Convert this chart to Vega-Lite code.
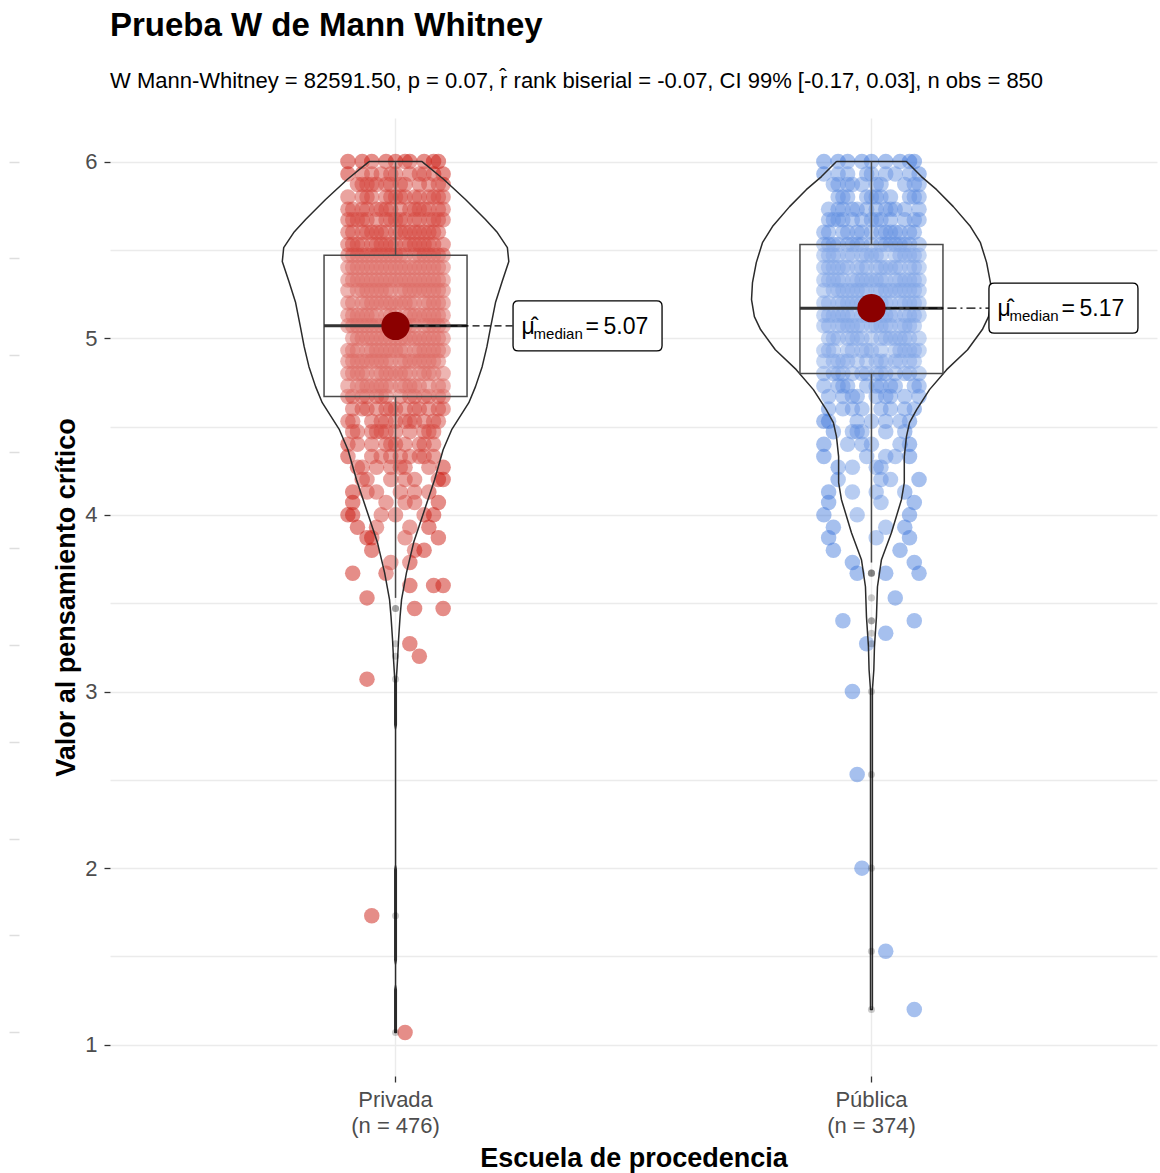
{
  "$schema": "https://vega.github.io/schema/vega-lite/v6.json",
  "width": 1047,
  "height": 958,
  "autosize": {"type": "none"},
  "padding": {"left": 110, "top": 118, "right": 3, "bottom": 97},
  "background": "white",
  "title": {
    "text": "Prueba W de Mann Whitney",
    "subtitle": "W Mann-Whitney = 82591.50, p = 0.07, r̂ rank biserial = -0.07, CI 99% [-0.17, 0.03], n obs = 850",
    "anchor": "start",
    "frame": "group",
    "font": "Liberation Sans",
    "fontSize": 33,
    "fontWeight": "bold",
    "color": "#000000",
    "subtitleFont": "Liberation Sans",
    "subtitleFontSize": 22,
    "subtitleColor": "#000000",
    "subtitlePadding": 28,
    "offset": 26
  },
  "datasets": {
    "privada": [
      {"v":6,"j":3},{"v":6,"j":-7},{"v":6,"j":9},{"v":6,"j":-2},{"v":6,"j":6},{"v":6,"j":-10},{"v":6,"j":0},{"v":6,"j":8},{"v":6,"j":-5},{"v":6,"j":2},
      {"v":5.93,"j":0},{"v":5.93,"j":10},{"v":5.93,"j":-7},{"v":5.93,"j":5},{"v":5.93,"j":-1},{"v":5.93,"j":8},{"v":5.93,"j":-10},{"v":5.93,"j":3},{"v":5.93,"j":-5},{"v":5.93,"j":6},{"v":5.93,"j":-3},
      {"v":5.87,"j":-5},{"v":5.87,"j":9},{"v":5.87,"j":-2},{"v":5.87,"j":2},{"v":5.87,"j":-7},{"v":5.87,"j":1},{"v":5.87,"j":-4},{"v":5.87,"j":7},{"v":5.87,"j":-8},{"v":5.87,"j":10},{"v":5.87,"j":-1},{"v":5.87,"j":5},{"v":5.87,"j":-6},
      {"v":5.8,"j":0},{"v":5.8,"j":8},{"v":5.8,"j":-5},{"v":5.8,"j":2},{"v":5.8,"j":10},{"v":5.8,"j":-7},{"v":5.8,"j":4},{"v":5.8,"j":-1},{"v":5.8,"j":9},{"v":5.8,"j":-6},{"v":5.8,"j":1},{"v":5.8,"j":-10},{"v":5.8,"j":5},{"v":5.8,"j":-2},{"v":5.8,"j":7},
      {"v":5.73,"j":5},{"v":5.73,"j":-1},{"v":5.73,"j":10},{"v":5.73,"j":-4},{"v":5.73,"j":7},{"v":5.73,"j":-9},{"v":5.73,"j":1},{"v":5.73,"j":-6},{"v":5.73,"j":4},{"v":5.73,"j":-3},{"v":5.73,"j":3},{"v":5.73,"j":-7},{"v":5.73,"j":9},{"v":5.73,"j":-2},{"v":5.73,"j":6},{"v":5.73,"j":-10},
      {"v":5.67,"j":1},{"v":5.67,"j":-8},{"v":5.67,"j":-6},{"v":5.67,"j":2},{"v":5.67,"j":9},{"v":5.67,"j":-9},{"v":5.67,"j":4},{"v":5.67,"j":-2},{"v":5.67,"j":7},{"v":5.67,"j":-4},{"v":5.67,"j":0},{"v":5.67,"j":10},{"v":5.67,"j":-7},{"v":5.67,"j":5},{"v":5.67,"j":-1},{"v":5.67,"j":8},{"v":5.67,"j":-10},
      {"v":5.6,"j":5},{"v":5.6,"j":-6},{"v":5.6,"j":3},{"v":5.6,"j":-10},{"v":5.6,"j":8},{"v":5.6,"j":-3},{"v":5.6,"j":0},{"v":5.6,"j":6},{"v":5.6,"j":-9},{"v":5.6,"j":4},{"v":5.6,"j":-5},{"v":5.6,"j":9},{"v":5.6,"j":-2},{"v":5.6,"j":2},{"v":5.6,"j":-7},{"v":5.6,"j":1},{"v":5.6,"j":-4},{"v":5.6,"j":7},
      {"v":5.53,"j":-10},{"v":5.53,"j":5},{"v":5.53,"j":-2},{"v":5.53,"j":7},{"v":5.53,"j":-8},{"v":5.53,"j":3},{"v":5.53,"j":-4},{"v":5.53,"j":-3},{"v":5.53,"j":6},{"v":5.53,"j":-9},{"v":5.53,"j":0},{"v":5.53,"j":8},{"v":5.53,"j":-5},{"v":5.53,"j":2},{"v":5.53,"j":10},{"v":5.53,"j":-7},{"v":5.53,"j":4},{"v":5.53,"j":-1},
      {"v":5.47,"j":-7},{"v":5.47,"j":9},{"v":5.47,"j":-2},{"v":5.47,"j":6},{"v":5.47,"j":-10},{"v":5.47,"j":0},{"v":5.47,"j":8},{"v":5.47,"j":-5},{"v":5.47,"j":2},{"v":5.47,"j":-8},{"v":5.47,"j":5},{"v":5.47,"j":-1},{"v":5.47,"j":10},{"v":5.47,"j":-4},{"v":5.47,"j":7},{"v":5.47,"j":-9},{"v":5.47,"j":1},{"v":5.47,"j":-6},{"v":5.47,"j":4},{"v":5.47,"j":-3},
      {"v":5.4,"j":-6},{"v":5.4,"j":2},{"v":5.4,"j":9},{"v":5.4,"j":-9},{"v":5.4,"j":4},{"v":5.4,"j":-2},{"v":5.4,"j":7},{"v":5.4,"j":-4},{"v":5.4,"j":0},{"v":5.4,"j":10},{"v":5.4,"j":-7},{"v":5.4,"j":5},{"v":5.4,"j":-1},{"v":5.4,"j":8},{"v":5.4,"j":-10},{"v":5.4,"j":3},{"v":5.4,"j":-5},{"v":5.4,"j":6},{"v":5.4,"j":-3},{"v":5.4,"j":1},{"v":5.4,"j":-8},
      {"v":5.33,"j":1},{"v":5.33,"j":-4},{"v":5.33,"j":7},{"v":5.33,"j":-8},{"v":5.33,"j":10},{"v":5.33,"j":-1},{"v":5.33,"j":5},{"v":5.33,"j":-6},{"v":5.33,"j":3},{"v":5.33,"j":-10},{"v":5.33,"j":8},{"v":5.33,"j":-3},{"v":5.33,"j":0},{"v":5.33,"j":6},{"v":5.33,"j":-9},{"v":5.33,"j":4},{"v":5.33,"j":-5},{"v":5.33,"j":9},{"v":5.33,"j":-2},{"v":5.33,"j":2},{"v":5.33,"j":-7},
      {"v":5.27,"j":8},{"v":5.27,"j":-5},{"v":5.27,"j":2},{"v":5.27,"j":10},{"v":5.27,"j":-7},{"v":5.27,"j":4},{"v":5.27,"j":-1},{"v":5.27,"j":9},{"v":5.27,"j":-6},{"v":5.27,"j":1},{"v":5.27,"j":-10},{"v":5.27,"j":5},{"v":5.27,"j":-2},{"v":5.27,"j":7},{"v":5.27,"j":-8},{"v":5.27,"j":3},{"v":5.27,"j":-4},{"v":5.27,"j":-3},{"v":5.27,"j":6},
      {"v":5.2,"j":-1},{"v":5.2,"j":10},{"v":5.2,"j":-4},{"v":5.2,"j":7},{"v":5.2,"j":-9},{"v":5.2,"j":1},{"v":5.2,"j":-6},{"v":5.2,"j":4},{"v":5.2,"j":-3},{"v":5.2,"j":3},{"v":5.2,"j":-7},{"v":5.2,"j":9},{"v":5.2,"j":-2},{"v":5.2,"j":6},{"v":5.2,"j":-10},{"v":5.2,"j":0},{"v":5.2,"j":8},{"v":5.2,"j":-5},{"v":5.2,"j":2},
      {"v":5.13,"j":-8},{"v":5.13,"j":-6},{"v":5.13,"j":2},{"v":5.13,"j":9},{"v":5.13,"j":-9},{"v":5.13,"j":4},{"v":5.13,"j":-2},{"v":5.13,"j":7},{"v":5.13,"j":-4},{"v":5.13,"j":0},{"v":5.13,"j":10},{"v":5.13,"j":-7},{"v":5.13,"j":5},{"v":5.13,"j":-1},{"v":5.13,"j":8},{"v":5.13,"j":-10},{"v":5.13,"j":3},{"v":5.13,"j":-5},{"v":5.13,"j":6},
      {"v":5.07,"j":-6},{"v":5.07,"j":3},{"v":5.07,"j":-10},{"v":5.07,"j":8},{"v":5.07,"j":-3},{"v":5.07,"j":0},{"v":5.07,"j":6},{"v":5.07,"j":-9},{"v":5.07,"j":4},{"v":5.07,"j":-5},{"v":5.07,"j":9},{"v":5.07,"j":-2},{"v":5.07,"j":2},{"v":5.07,"j":-7},{"v":5.07,"j":1},{"v":5.07,"j":-4},{"v":5.07,"j":7},{"v":5.07,"j":-8},{"v":5.07,"j":10},
      {"v":5,"j":5},{"v":5,"j":-2},{"v":5,"j":7},{"v":5,"j":-8},{"v":5,"j":3},{"v":5,"j":-4},{"v":5,"j":-3},{"v":5,"j":6},{"v":5,"j":-9},{"v":5,"j":0},{"v":5,"j":8},{"v":5,"j":-5},{"v":5,"j":2},{"v":5,"j":10},{"v":5,"j":-7},{"v":5,"j":4},{"v":5,"j":-1},{"v":5,"j":9},{"v":5,"j":-6},{"v":5,"j":1},
      {"v":4.93,"j":9},{"v":4.93,"j":-2},{"v":4.93,"j":6},{"v":4.93,"j":-10},{"v":4.93,"j":0},{"v":4.93,"j":8},{"v":4.93,"j":-5},{"v":4.93,"j":2},{"v":4.93,"j":-8},{"v":4.93,"j":5},{"v":4.93,"j":-1},{"v":4.93,"j":10},{"v":4.93,"j":-4},{"v":4.93,"j":7},{"v":4.93,"j":-9},{"v":4.93,"j":1},{"v":4.93,"j":-6},{"v":4.93,"j":4},{"v":4.93,"j":-3},
      {"v":4.87,"j":-7},{"v":4.87,"j":5},{"v":4.87,"j":-1},{"v":4.87,"j":8},{"v":4.87,"j":-10},{"v":4.87,"j":3},{"v":4.87,"j":-5},{"v":4.87,"j":6},{"v":4.87,"j":-3},{"v":4.87,"j":1},{"v":4.87,"j":-8},{"v":4.87,"j":-6},{"v":4.87,"j":2},{"v":4.87,"j":9},{"v":4.87,"j":-9},{"v":4.87,"j":4},{"v":4.87,"j":-2},{"v":4.87,"j":7},{"v":4.87,"j":-4},
      {"v":4.8,"j":-2},{"v":4.8,"j":2},{"v":4.8,"j":-7},{"v":4.8,"j":1},{"v":4.8,"j":-4},{"v":4.8,"j":7},{"v":4.8,"j":-8},{"v":4.8,"j":10},{"v":4.8,"j":-1},{"v":4.8,"j":5},{"v":4.8,"j":-6},{"v":4.8,"j":3},{"v":4.8,"j":-10},{"v":4.8,"j":8},{"v":4.8,"j":-3},{"v":4.8,"j":0},{"v":4.8,"j":6},{"v":4.8,"j":-9},
      {"v":4.73,"j":-5},{"v":4.73,"j":2},{"v":4.73,"j":10},{"v":4.73,"j":-7},{"v":4.73,"j":4},{"v":4.73,"j":-1},{"v":4.73,"j":9},{"v":4.73,"j":-6},{"v":4.73,"j":1},{"v":4.73,"j":-10},{"v":4.73,"j":5},{"v":4.73,"j":-2},{"v":4.73,"j":7},{"v":4.73,"j":-8},{"v":4.73,"j":3},{"v":4.73,"j":-4},{"v":4.73,"j":-3},
      {"v":4.67,"j":10},{"v":4.67,"j":-4},{"v":4.67,"j":7},{"v":4.67,"j":-9},{"v":4.67,"j":1},{"v":4.67,"j":-6},{"v":4.67,"j":4},{"v":4.67,"j":-3},{"v":4.67,"j":3},{"v":4.67,"j":-7},{"v":4.67,"j":9},{"v":4.67,"j":-2},{"v":4.67,"j":6},{"v":4.67,"j":-10},
      {"v":4.6,"j":-6},{"v":4.6,"j":2},{"v":4.6,"j":9},{"v":4.6,"j":-9},{"v":4.6,"j":4},{"v":4.6,"j":-2},{"v":4.6,"j":7},{"v":4.6,"j":-4},{"v":4.6,"j":0},{"v":4.6,"j":10},{"v":4.6,"j":-7},{"v":4.6,"j":5},{"v":4.6,"j":-1},
      {"v":4.53,"j":3},{"v":4.53,"j":-10},{"v":4.53,"j":8},{"v":4.53,"j":-3},{"v":4.53,"j":0},{"v":4.53,"j":6},{"v":4.53,"j":-9},{"v":4.53,"j":4},{"v":4.53,"j":-5},{"v":4.53,"j":9},{"v":4.53,"j":-2},{"v":4.53,"j":2},
      {"v":4.47,"j":-2},{"v":4.47,"j":7},{"v":4.47,"j":-8},{"v":4.47,"j":3},{"v":4.47,"j":-4},{"v":4.47,"j":-3},{"v":4.47,"j":6},{"v":4.47,"j":-9},{"v":4.47,"j":0},{"v":4.47,"j":8},{"v":4.47,"j":-5},
      {"v":4.4,"j":-2},{"v":4.4,"j":6},{"v":4.4,"j":-10},{"v":4.4,"j":0},{"v":4.4,"j":8},{"v":4.4,"j":-5},{"v":4.4,"j":2},{"v":4.4,"j":-8},{"v":4.4,"j":5},{"v":4.4,"j":-1},
      {"v":4.33,"j":5},{"v":4.33,"j":-1},{"v":4.33,"j":8},{"v":4.33,"j":-10},{"v":4.33,"j":3},{"v":4.33,"j":-5},{"v":4.33,"j":6},{"v":4.33,"j":-3},{"v":4.33,"j":1},
      {"v":4.27,"j":2},{"v":4.27,"j":-7},{"v":4.27,"j":1},{"v":4.27,"j":-4},{"v":4.27,"j":7},{"v":4.27,"j":-8},{"v":4.27,"j":10},{"v":4.27,"j":-1},
      {"v":4.2,"j":2},{"v":4.2,"j":10},{"v":4.2,"j":-7},{"v":4.2,"j":4},{"v":4.2,"j":-1},{"v":4.2,"j":9},{"v":4.2,"j":-6},
      {"v":4.13,"j":-4},{"v":4.13,"j":7},{"v":4.13,"j":-9},{"v":4.13,"j":1},{"v":4.13,"j":-6},{"v":4.13,"j":4},
      {"v":4.07,"j":2},{"v":4.07,"j":9},{"v":4.07,"j":-9},{"v":4.07,"j":4},{"v":4.07,"j":-2},
      {"v":4,"j":-10},{"v":4,"j":8},{"v":4,"j":-3},{"v":4,"j":0},{"v":4,"j":6},{"v":4,"j":-9},
      {"v":3.93,"j":7},{"v":3.93,"j":-8},{"v":3.93,"j":3},{"v":3.93,"j":-4},
      {"v":3.87,"j":-5},{"v":3.87,"j":-6},{"v":3.87,"j":9},{"v":3.87,"j":2},
      {"v":3.8,"j":-5},{"v":3.8,"j":4},{"v":3.8,"j":6},
      {"v":3.73,"j":-1},{"v":3.73,"j":3},
      {"v":3.67,"j":-9},{"v":3.67,"j":-2},
      {"v":3.6,"j":3},{"v":3.6,"j":8},{"v":3.6,"j":10},
      {"v":3.53,"j":-6},
      {"v":3.47,"j":4},{"v":3.47,"j":10},
      {"v":3.27,"j":3},
      {"v":3.2,"j":5},
      {"v":3.07,"j":-6},
      {"v":1.73,"j":-5},
      {"v":1.07,"j":2}
    ],
    "publica": [
      {"v":6,"j":3},{"v":6,"j":-7},{"v":6,"j":9},{"v":6,"j":-2},{"v":6,"j":6},{"v":6,"j":-10},{"v":6,"j":0},{"v":6,"j":8},{"v":6,"j":-5},
      {"v":5.93,"j":0},{"v":5.93,"j":10},{"v":5.93,"j":-7},{"v":5.93,"j":5},{"v":5.93,"j":-1},{"v":5.93,"j":8},{"v":5.93,"j":-10},{"v":5.93,"j":3},{"v":5.93,"j":-5},
      {"v":5.87,"j":-5},{"v":5.87,"j":9},{"v":5.87,"j":-2},{"v":5.87,"j":2},{"v":5.87,"j":-7},{"v":5.87,"j":1},{"v":5.87,"j":-4},{"v":5.87,"j":7},{"v":5.87,"j":-8},{"v":5.87,"j":10},
      {"v":5.8,"j":0},{"v":5.8,"j":8},{"v":5.8,"j":-5},{"v":5.8,"j":2},{"v":5.8,"j":10},{"v":5.8,"j":-7},{"v":5.8,"j":4},{"v":5.8,"j":-1},{"v":5.8,"j":9},{"v":5.8,"j":-6},{"v":5.8,"j":1},
      {"v":5.73,"j":5},{"v":5.73,"j":-1},{"v":5.73,"j":10},{"v":5.73,"j":-4},{"v":5.73,"j":7},{"v":5.73,"j":-9},{"v":5.73,"j":1},{"v":5.73,"j":-6},{"v":5.73,"j":4},{"v":5.73,"j":-3},{"v":5.73,"j":3},{"v":5.73,"j":-7},
      {"v":5.67,"j":1},{"v":5.67,"j":-8},{"v":5.67,"j":-6},{"v":5.67,"j":2},{"v":5.67,"j":9},{"v":5.67,"j":-9},{"v":5.67,"j":4},{"v":5.67,"j":-2},{"v":5.67,"j":7},{"v":5.67,"j":-4},{"v":5.67,"j":0},{"v":5.67,"j":10},{"v":5.67,"j":-7},
      {"v":5.6,"j":5},{"v":5.6,"j":-6},{"v":5.6,"j":3},{"v":5.6,"j":-10},{"v":5.6,"j":8},{"v":5.6,"j":-3},{"v":5.6,"j":0},{"v":5.6,"j":6},{"v":5.6,"j":-9},{"v":5.6,"j":4},{"v":5.6,"j":-5},{"v":5.6,"j":9},{"v":5.6,"j":-2},{"v":5.6,"j":2},
      {"v":5.53,"j":-10},{"v":5.53,"j":5},{"v":5.53,"j":-2},{"v":5.53,"j":7},{"v":5.53,"j":-8},{"v":5.53,"j":3},{"v":5.53,"j":-4},{"v":5.53,"j":-3},{"v":5.53,"j":6},{"v":5.53,"j":-9},{"v":5.53,"j":0},{"v":5.53,"j":8},{"v":5.53,"j":-5},{"v":5.53,"j":2},{"v":5.53,"j":10},{"v":5.53,"j":-7},{"v":5.53,"j":4},
      {"v":5.47,"j":-7},{"v":5.47,"j":9},{"v":5.47,"j":-2},{"v":5.47,"j":6},{"v":5.47,"j":-10},{"v":5.47,"j":0},{"v":5.47,"j":8},{"v":5.47,"j":-5},{"v":5.47,"j":2},{"v":5.47,"j":-8},{"v":5.47,"j":5},{"v":5.47,"j":-1},{"v":5.47,"j":10},{"v":5.47,"j":-4},{"v":5.47,"j":7},{"v":5.47,"j":-9},{"v":5.47,"j":1},
      {"v":5.4,"j":10},{"v":5.4,"j":-7},{"v":5.4,"j":5},{"v":5.4,"j":-1},{"v":5.4,"j":8},{"v":5.4,"j":-10},{"v":5.4,"j":3},{"v":5.4,"j":-5},{"v":5.4,"j":6},{"v":5.4,"j":-3},{"v":5.4,"j":1},{"v":5.4,"j":-8},{"v":5.4,"j":-6},{"v":5.4,"j":2},{"v":5.4,"j":9},{"v":5.4,"j":-9},{"v":5.4,"j":4},{"v":5.4,"j":-2},
      {"v":5.33,"j":9},{"v":5.33,"j":-2},{"v":5.33,"j":2},{"v":5.33,"j":-7},{"v":5.33,"j":1},{"v":5.33,"j":-4},{"v":5.33,"j":7},{"v":5.33,"j":-8},{"v":5.33,"j":10},{"v":5.33,"j":-1},{"v":5.33,"j":5},{"v":5.33,"j":-6},{"v":5.33,"j":3},{"v":5.33,"j":-10},{"v":5.33,"j":8},{"v":5.33,"j":-3},{"v":5.33,"j":0},{"v":5.33,"j":6},{"v":5.33,"j":-9},
      {"v":5.27,"j":8},{"v":5.27,"j":-5},{"v":5.27,"j":2},{"v":5.27,"j":10},{"v":5.27,"j":-7},{"v":5.27,"j":4},{"v":5.27,"j":-1},{"v":5.27,"j":9},{"v":5.27,"j":-6},{"v":5.27,"j":1},{"v":5.27,"j":-10},{"v":5.27,"j":5},{"v":5.27,"j":-2},{"v":5.27,"j":7},{"v":5.27,"j":-8},{"v":5.27,"j":3},{"v":5.27,"j":-4},{"v":5.27,"j":-3},{"v":5.27,"j":6},
      {"v":5.2,"j":-1},{"v":5.2,"j":10},{"v":5.2,"j":-4},{"v":5.2,"j":7},{"v":5.2,"j":-9},{"v":5.2,"j":1},{"v":5.2,"j":-6},{"v":5.2,"j":4},{"v":5.2,"j":-3},{"v":5.2,"j":3},{"v":5.2,"j":-7},{"v":5.2,"j":9},{"v":5.2,"j":-2},{"v":5.2,"j":6},{"v":5.2,"j":-10},{"v":5.2,"j":0},{"v":5.2,"j":8},{"v":5.2,"j":-5},{"v":5.2,"j":2},
      {"v":5.13,"j":-8},{"v":5.13,"j":-6},{"v":5.13,"j":2},{"v":5.13,"j":9},{"v":5.13,"j":-9},{"v":5.13,"j":4},{"v":5.13,"j":-2},{"v":5.13,"j":7},{"v":5.13,"j":-4},{"v":5.13,"j":0},{"v":5.13,"j":10},{"v":5.13,"j":-7},{"v":5.13,"j":5},{"v":5.13,"j":-1},{"v":5.13,"j":8},{"v":5.13,"j":-10},{"v":5.13,"j":3},{"v":5.13,"j":-5},
      {"v":5.07,"j":-6},{"v":5.07,"j":3},{"v":5.07,"j":-10},{"v":5.07,"j":8},{"v":5.07,"j":-3},{"v":5.07,"j":0},{"v":5.07,"j":6},{"v":5.07,"j":-9},{"v":5.07,"j":4},{"v":5.07,"j":-5},{"v":5.07,"j":9},{"v":5.07,"j":-2},{"v":5.07,"j":2},{"v":5.07,"j":-7},{"v":5.07,"j":1},{"v":5.07,"j":-4},{"v":5.07,"j":7},
      {"v":5,"j":5},{"v":5,"j":-2},{"v":5,"j":7},{"v":5,"j":-8},{"v":5,"j":3},{"v":5,"j":-4},{"v":5,"j":-3},{"v":5,"j":6},{"v":5,"j":-9},{"v":5,"j":0},{"v":5,"j":8},{"v":5,"j":-5},{"v":5,"j":2},{"v":5,"j":10},{"v":5,"j":-7},{"v":5,"j":4},
      {"v":4.93,"j":9},{"v":4.93,"j":-2},{"v":4.93,"j":6},{"v":4.93,"j":-10},{"v":4.93,"j":0},{"v":4.93,"j":8},{"v":4.93,"j":-5},{"v":4.93,"j":2},{"v":4.93,"j":-8},{"v":4.93,"j":5},{"v":4.93,"j":-1},{"v":4.93,"j":10},{"v":4.93,"j":-4},{"v":4.93,"j":7},{"v":4.93,"j":-9},
      {"v":4.87,"j":-7},{"v":4.87,"j":5},{"v":4.87,"j":-1},{"v":4.87,"j":8},{"v":4.87,"j":-10},{"v":4.87,"j":3},{"v":4.87,"j":-5},{"v":4.87,"j":6},{"v":4.87,"j":-3},{"v":4.87,"j":1},{"v":4.87,"j":-8},{"v":4.87,"j":-6},{"v":4.87,"j":2},{"v":4.87,"j":9},
      {"v":4.8,"j":-2},{"v":4.8,"j":2},{"v":4.8,"j":-7},{"v":4.8,"j":1},{"v":4.8,"j":-4},{"v":4.8,"j":7},{"v":4.8,"j":-8},{"v":4.8,"j":10},{"v":4.8,"j":-1},{"v":4.8,"j":5},{"v":4.8,"j":-6},{"v":4.8,"j":3},{"v":4.8,"j":-10},{"v":4.8,"j":8},
      {"v":4.73,"j":-5},{"v":4.73,"j":2},{"v":4.73,"j":10},{"v":4.73,"j":-7},{"v":4.73,"j":4},{"v":4.73,"j":-1},{"v":4.73,"j":9},{"v":4.73,"j":-6},{"v":4.73,"j":1},{"v":4.73,"j":-10},{"v":4.73,"j":5},
      {"v":4.67,"j":10},{"v":4.67,"j":-4},{"v":4.67,"j":7},{"v":4.67,"j":-9},{"v":4.67,"j":1},{"v":4.67,"j":-6},{"v":4.67,"j":4},{"v":4.67,"j":-3},{"v":4.67,"j":3},
      {"v":4.6,"j":-6},{"v":4.6,"j":2},{"v":4.6,"j":9},{"v":4.6,"j":-9},{"v":4.6,"j":4},{"v":4.6,"j":-2},{"v":4.6,"j":7},{"v":4.6,"j":-4},
      {"v":4.53,"j":3},{"v":4.53,"j":-10},{"v":4.53,"j":8},{"v":4.53,"j":-3},{"v":4.53,"j":0},{"v":4.53,"j":6},{"v":4.53,"j":-9},
      {"v":4.47,"j":-2},{"v":4.47,"j":7},{"v":4.47,"j":-8},{"v":4.47,"j":3},{"v":4.47,"j":-4},{"v":4.47,"j":-3},
      {"v":4.4,"j":-2},{"v":4.4,"j":6},{"v":4.4,"j":-10},{"v":4.4,"j":0},{"v":4.4,"j":8},{"v":4.4,"j":-5},
      {"v":4.33,"j":5},{"v":4.33,"j":-1},{"v":4.33,"j":8},{"v":4.33,"j":-10},{"v":4.33,"j":3},
      {"v":4.27,"j":2},{"v":4.27,"j":-7},{"v":4.27,"j":1},{"v":4.27,"j":-4},
      {"v":4.2,"j":2},{"v":4.2,"j":10},{"v":4.2,"j":-7},{"v":4.2,"j":4},
      {"v":4.13,"j":-4},{"v":4.13,"j":7},{"v":4.13,"j":-9},{"v":4.13,"j":1},
      {"v":4.07,"j":2},{"v":4.07,"j":9},{"v":4.07,"j":-9},
      {"v":4,"j":-10},{"v":4,"j":8},{"v":4,"j":-3},
      {"v":3.93,"j":7},{"v":3.93,"j":-8},{"v":3.93,"j":3},
      {"v":3.87,"j":8},{"v":3.87,"j":-9},{"v":3.87,"j":1},
      {"v":3.8,"j":-8},{"v":3.8,"j":6},
      {"v":3.73,"j":9},{"v":3.73,"j":-4},
      {"v":3.67,"j":-3},{"v":3.67,"j":3},{"v":3.67,"j":10},
      {"v":3.53,"j":5},
      {"v":3.4,"j":-6},{"v":3.4,"j":9},
      {"v":3.33,"j":3},
      {"v":3.27,"j":-1},
      {"v":3,"j":-4},
      {"v":2.53,"j":-3},
      {"v":2,"j":-2},
      {"v":1.53,"j":3},
      {"v":1.2,"j":9}
    ],
    "violinPrivada": [
      {"v":6,"o":-5.57},{"v":5.9,"o":-10.1},{"v":5.785,"o":-14.7},{"v":5.672,"o":-18.9},{"v":5.598,"o":-21.4},{"v":5.513,"o":-23.5},{"v":5.434,"o":-23.8},{"v":5.321,"o":-22.4},{"v":5.202,"o":-21},{"v":5.066,"o":-20},{"v":4.952,"o":-19.2},{"v":4.839,"o":-18.2},{"v":4.726,"o":-16.8},{"v":4.635,"o":-15.4},{"v":4.482,"o":-11.8},{"v":4.369,"o":-10},{"v":4.199,"o":-8.2},{"v":4.029,"o":-6.1},{"v":3.843,"o":-3.8},{"v":3.673,"o":-2.3},{"v":3.52,"o":-1.26},{"v":3.424,"o":-0.95},{"v":3.293,"o":-0.63},{"v":3.18,"o":-0.42},{"v":3.067,"o":-0.16},{"v":2.812,"o":-0.16},{"v":2.784,"o":0},{"v":2.019,"o":0},{"v":1.991,"o":-0.16},{"v":1.481,"o":-0.16},{"v":1.453,"o":0},{"v":1.34,"o":0},{"v":1.311,"o":-0.16},{"v":1.07,"o":-0.16},
      {"v":1.07,"o":0.16},{"v":1.311,"o":0.16},{"v":1.34,"o":0},{"v":1.453,"o":0},{"v":1.481,"o":0.16},{"v":1.991,"o":0.16},{"v":2.019,"o":0},{"v":2.784,"o":0},{"v":2.812,"o":0.16},{"v":3.067,"o":0.16},{"v":3.18,"o":0.42},{"v":3.293,"o":0.63},{"v":3.424,"o":0.95},{"v":3.52,"o":1.26},{"v":3.673,"o":2.3},{"v":3.843,"o":3.8},{"v":4.029,"o":6.1},{"v":4.199,"o":8.2},{"v":4.369,"o":10},{"v":4.482,"o":11.8},{"v":4.635,"o":15.4},{"v":4.726,"o":16.8},{"v":4.839,"o":18.2},{"v":4.952,"o":19.2},{"v":5.066,"o":20},{"v":5.202,"o":21},{"v":5.321,"o":22.4},{"v":5.434,"o":23.8},{"v":5.513,"o":23.5},{"v":5.598,"o":21.4},{"v":5.672,"o":18.9},{"v":5.785,"o":14.7},{"v":5.9,"o":10.1},{"v":6,"o":5.57},{"v":6,"o":-5.57}
    ],
    "violinPublica": [
      {"v":6,"o":-7.35},{"v":5.915,"o":-10.5},{"v":5.841,"o":-13.7},{"v":5.745,"o":-17.2},{"v":5.632,"o":-20.8},{"v":5.541,"o":-22.9},{"v":5.428,"o":-24.2},{"v":5.315,"o":-25},{"v":5.219,"o":-25.2},{"v":5.122,"o":-24.6},{"v":5.049,"o":-23.3},{"v":4.935,"o":-20.2},{"v":4.822,"o":-15.8},{"v":4.709,"o":-12.2},{"v":4.596,"o":-9.5},{"v":4.522,"o":-8},{"v":4.443,"o":-7.35},{"v":4.33,"o":-6.9},{"v":4.182,"o":-6.9},{"v":4.086,"o":-6.3},{"v":3.899,"o":-4.2},{"v":3.746,"o":-2.1},{"v":3.593,"o":-1.26},{"v":3.424,"o":-1.05},{"v":3.254,"o":-0.63},{"v":3.123,"o":-0.5},{"v":3.01,"o":-0.2},{"v":1.2,"o":-0.2},
      {"v":1.2,"o":0.2},{"v":3.01,"o":0.2},{"v":3.123,"o":0.5},{"v":3.254,"o":0.63},{"v":3.424,"o":1.05},{"v":3.593,"o":1.26},{"v":3.746,"o":2.1},{"v":3.899,"o":4.2},{"v":4.086,"o":6.3},{"v":4.182,"o":6.9},{"v":4.33,"o":6.9},{"v":4.443,"o":7.35},{"v":4.522,"o":8},{"v":4.596,"o":9.5},{"v":4.709,"o":12.2},{"v":4.822,"o":15.8},{"v":4.935,"o":20.2},{"v":5.049,"o":23.3},{"v":5.122,"o":24.6},{"v":5.219,"o":25.2},{"v":5.315,"o":25},{"v":5.428,"o":24.2},{"v":5.541,"o":22.9},{"v":5.632,"o":20.8},{"v":5.745,"o":17.2},{"v":5.841,"o":13.7},{"v":5.915,"o":10.5},{"v":6,"o":7.35},{"v":6,"o":-7.35}
    ],
    "stats": [
      {"g":"Privada","q1":4.67,"med":5.07,"q3":5.47,"lo":3.53,"hi":6},
      {"g":"Pública","q1":4.8,"med":5.17,"q3":5.53,"lo":3.73,"hi":6}
    ]
  },
  "layer": [
    {
      "layer": [
        {
          "data": {"name": "privada"},
          "mark": {"type": "point", "filled": true, "size": 240, "opacity": 0.5, "strokeWidth": 0, "color": "#CC1B12"},
          "encoding": {
            "x": {
              "datum": "Privada", "type": "nominal",
              "scale": {"type": "band", "domain": ["Privada", "Pública"], "paddingInner": 0, "paddingOuter": 0.1},
              "axis": {
                "title": "Escuela de procedencia",
                "labelExpr": "datum.value === 'Privada' ? ['Privada', '(n = 476)'] : ['Pública', '(n = 374)']",
                "labelAngle": 0, "domain": false, "bandPosition": 0.5,
                "tickColor": "#333333", "tickSize": 6, "tickWidth": 1.3,
                "labelFontSize": 22, "labelColor": "#4D4D4D", "labelLineHeight": 26, "labelPadding": 7,
                "grid": true, "gridColor": "#EBEBEB", "gridWidth": 1.4,
                "titleFontSize": 27, "titleFontWeight": "bold", "titleColor": "#000000", "titlePadding": 9
              }
            },
            "xOffset": {"field": "j", "type": "quantitative", "scale": {"domain": [-50, 50], "nice": false, "zero": false}},
            "y": {
              "field": "v", "type": "quantitative",
              "scale": {"domain": [0.8233, 6.2467], "nice": false, "zero": false},
              "axis": {
                "title": "Valor al pensamiento crítico",
                "values": [1, 1.5, 2, 2.5, 3, 3.5, 4, 4.5, 5, 5.5, 6],
                "labelExpr": "datum.value % 1 === 0 ? '' + datum.value : ''",
                "tickOpacity": {"condition": {"test": "datum.value % 1 !== 0", "value": 0}, "value": 1},
                "domain": false, "tickColor": "#333333", "tickSize": 6, "tickWidth": 1.3,
                "labelFontSize": 22, "labelColor": "#4D4D4D", "labelPadding": 7, "labelFlush": false,
                "grid": true, "gridColor": "#EBEBEB", "gridWidth": 1.4,
                "titleFontSize": 27, "titleFontWeight": "bold", "titleColor": "#000000", "titlePadding": 4
              }
            }
          }
        },
        {
          "data": {"name": "publica"},
          "mark": {"type": "point", "filled": true, "size": 240, "opacity": 0.45, "strokeWidth": 0, "color": "#3A73D9"},
          "encoding": {
            "x": {"datum": "Pública", "type": "nominal"},
            "xOffset": {"field": "j", "type": "quantitative"},
            "y": {"field": "v", "type": "quantitative"}
          }
        },
        {
          "data": {"name": "violinPrivada"},
          "mark": {"type": "line", "stroke": "#2B2B2B", "strokeWidth": 1.5, "fill": "white", "fillOpacity": 0.2, "strokeJoin": "round"},
          "encoding": {
            "x": {"datum": "Privada", "type": "nominal"},
            "xOffset": {"field": "o", "type": "quantitative"},
            "y": {"field": "v", "type": "quantitative"},
            "order": {"value": null}
          }
        },
        {
          "data": {"name": "violinPublica"},
          "mark": {"type": "line", "stroke": "#2B2B2B", "strokeWidth": 1.5, "fill": "white", "fillOpacity": 0.2, "strokeJoin": "round"},
          "encoding": {
            "x": {"datum": "Pública", "type": "nominal"},
            "xOffset": {"field": "o", "type": "quantitative"},
            "y": {"field": "v", "type": "quantitative"},
            "order": {"value": null}
          }
        },
        {
          "data": {"name": "stats"},
          "mark": {"type": "bar", "width": 143, "fill": "white", "fillOpacity": 0.2, "stroke": "#4A4A4A", "strokeWidth": 1.5},
          "encoding": {
            "x": {"field": "g", "type": "nominal"},
            "y": {"field": "q1", "type": "quantitative", "scale": {"zero": false}},
            "y2": {"field": "q3"}
          }
        },
        {
          "data": {"name": "stats"},
          "mark": {"type": "rule", "color": "#4A4A4A", "strokeWidth": 1.5},
          "encoding": {
            "x": {"field": "g", "type": "nominal"},
            "y": {"field": "lo", "type": "quantitative"},
            "y2": {"field": "q1"}
          }
        },
        {
          "data": {"name": "stats"},
          "mark": {"type": "rule", "color": "#4A4A4A", "strokeWidth": 1.5},
          "encoding": {
            "x": {"field": "g", "type": "nominal"},
            "y": {"field": "q3", "type": "quantitative"},
            "y2": {"field": "hi"}
          }
        },
        {
          "data": {"name": "stats"},
          "mark": {"type": "bar", "width": 143, "fill": null, "stroke": "#333333", "strokeWidth": 3},
          "encoding": {
            "x": {"field": "g", "type": "nominal"},
            "y": {"field": "med", "type": "quantitative"},
            "y2": {"field": "med"}
          }
        },
        {
          "data": {"name": "privada"},
          "transform": [{"filter": "datum.v < 3.5"}],
          "mark": {"type": "point", "filled": true, "size": 50, "color": "black", "opacity": 0.2, "strokeWidth": 0},
          "encoding": {
            "x": {"datum": "Privada", "type": "nominal"},
            "y": {"field": "v", "type": "quantitative"}
          }
        },
        {
          "data": {"name": "publica"},
          "transform": [{"filter": "datum.v < 3.7"}],
          "mark": {"type": "point", "filled": true, "size": 50, "color": "black", "opacity": 0.2, "strokeWidth": 0},
          "encoding": {
            "x": {"datum": "Pública", "type": "nominal"},
            "y": {"field": "v", "type": "quantitative"}
          }
        },
        {
          "data": {"name": "stats"},
          "mark": {"type": "point", "shape": "M0,0H1", "size": 55225, "filled": false, "color": "black", "strokeWidth": 1.3, "opacity": 1},
          "encoding": {
            "x": {"field": "g", "type": "nominal"},
            "y": {"field": "med", "type": "quantitative"},
            "strokeDash": {"field": "g", "type": "nominal", "scale": {"domain": ["Privada", "Pública"], "range": [[7, 4], [9, 4, 2, 4]]}, "legend": null}
          }
        },
        {
          "data": {"name": "stats"},
          "mark": {"type": "point", "filled": true, "size": 804, "color": "#8B0000", "opacity": 1, "strokeWidth": 0},
          "encoding": {
            "x": {"field": "g", "type": "nominal"},
            "y": {"field": "med", "type": "quantitative"}
          }
        },
        {
          "data": {"name": "stats"},
          "mark": {
            "type": "point",
            "shape": "M-0.93,-0.3356H0.93Q1,-0.3356 1,-0.2656V0.2656Q1,0.3356 0.93,0.3356H-0.93Q-1,0.3356 -1,0.2656V-0.2656Q-1,-0.3356 -0.93,-0.3356Z",
            "size": 22201, "filled": true, "fill": "white", "stroke": "black", "strokeWidth": 1.3, "opacity": 1, "xOffset": 192
          },
          "encoding": {
            "x": {"field": "g", "type": "nominal"},
            "y": {"field": "med", "type": "quantitative"}
          }
        },
        {
          "data": {"name": "stats"},
          "mark": {"type": "text", "text": "μ̂", "fontSize": 23, "align": "left", "baseline": "middle", "dx": 126, "dy": 1, "color": "black"},
          "encoding": {
            "x": {"field": "g", "type": "nominal"},
            "y": {"field": "med", "type": "quantitative"}
          }
        },
        {
          "data": {"name": "stats"},
          "mark": {"type": "text", "text": "median", "fontSize": 15, "align": "left", "baseline": "middle", "dx": 138, "dy": 8, "color": "black"},
          "encoding": {
            "x": {"field": "g", "type": "nominal"},
            "y": {"field": "med", "type": "quantitative"}
          }
        },
        {
          "data": {"name": "stats"},
          "mark": {"type": "text", "text": "=", "fontSize": 23, "align": "left", "baseline": "middle", "dx": 190, "dy": 1, "color": "black"},
          "encoding": {
            "x": {"field": "g", "type": "nominal"},
            "y": {"field": "med", "type": "quantitative"}
          }
        },
        {
          "data": {"name": "stats"},
          "mark": {"type": "text", "fontSize": 23, "align": "left", "baseline": "middle", "dx": 208, "dy": 1, "color": "black"},
          "encoding": {
            "x": {"field": "g", "type": "nominal"},
            "y": {"field": "med", "type": "quantitative"},
            "text": {"field": "med", "type": "quantitative", "format": ".2f"}
          }
        }
      ]
    },
    {
      "data": {"name": "stats"},
      "mark": {"type": "point", "opacity": 0},
      "encoding": {
        "y": {
          "field": "med", "type": "quantitative",
          "axis": {
            "orient": "left", "offset": 91, "title": null,
            "values": [6, 5.452, 4.905, 4.357, 3.81, 3.262, 2.714, 2.167, 1.619, 1.074],
            "labels": false, "domain": false, "grid": false,
            "ticks": true, "tickColor": "#DEDEDE", "tickSize": 10, "tickWidth": 1.5
          }
        }
      }
    }
  ],
  "resolve": {"axis": {"y": "independent"}},
  "config": {
    "font": "Liberation Sans",
    "view": {"stroke": null},
    "axis": {"labelFont": "Liberation Sans", "titleFont": "Liberation Sans"}
  }
}
